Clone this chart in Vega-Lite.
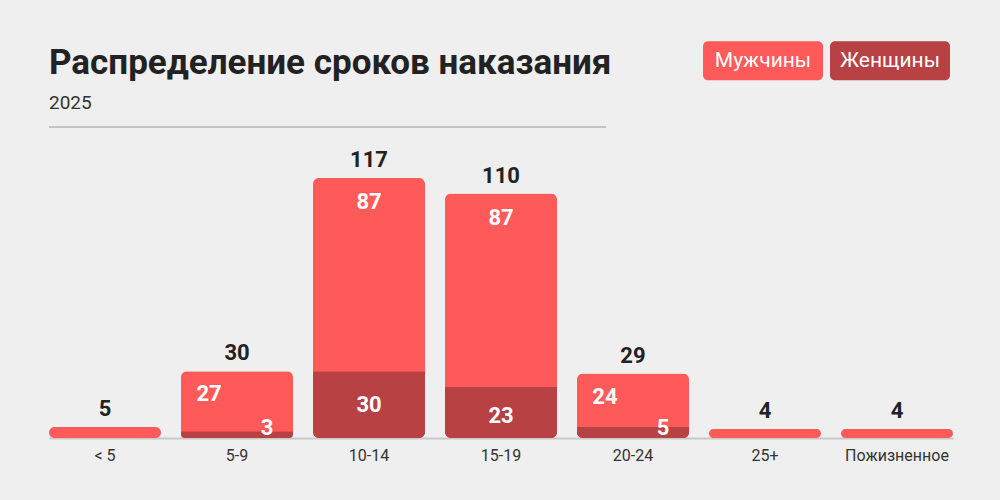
{
  "$schema": "https://vega.github.io/schema/vega-lite/v6.json",
  "autosize": {"type": "none"},
  "padding": {"left": 49, "top": 178, "right": 47, "bottom": 62},
  "width": 904,
  "height": 260,
  "background": "#efefef",
  "title": {
    "text": "Распределение сроков наказания",
    "subtitle": "2025",
    "anchor": "start",
    "frame": "group",
    "offset": -112,
    "font": "Roboto",
    "fontSize": 35,
    "fontWeight": "bold",
    "color": "#222222",
    "subtitleFont": "Roboto",
    "subtitleFontSize": 19,
    "subtitleColor": "#333333",
    "subtitlePadding": 13
  },
  "config": {
    "view": {"stroke": null},
    "text": {"font": "Roboto"},
    "axis": {"labelFont": "Roboto"},
    "legend": {"labelFont": "Roboto"}
  },
  "data": {
    "values": [
      {"cat": "< 5", "men": 5, "women": 0, "total": 5},
      {"cat": "5-9", "men": 27, "women": 3, "total": 30},
      {"cat": "10-14", "men": 87, "women": 30, "total": 117},
      {"cat": "15-19", "men": 87, "women": 23, "total": 110},
      {"cat": "20-24", "men": 24, "women": 5, "total": 29},
      {"cat": "25+", "men": 4, "women": 0, "total": 4},
      {"cat": "Пожизненное", "men": 4, "women": 0, "total": 4}
    ]
  },
  "resolve": {"scale": {"x": "independent"}},
  "layer": [
    {
      "encoding": {
        "x": {
          "field": "cat",
          "type": "nominal",
          "sort": null,
          "scale": {"paddingInner": 0.1515, "paddingOuter": 0},
          "axis": {
            "title": null,
            "labelAngle": 0,
            "ticks": false,
            "domainColor": "#c8c8c8",
            "domainWidth": 2,
            "labelFontSize": 16,
            "labelColor": "#333333",
            "labelPadding": 9
          }
        },
        "y": {
          "type": "quantitative",
          "scale": {"domain": [0, 117], "nice": false},
          "axis": null
        }
      },
      "layer": [
        {
          "mark": {"type": "bar", "cornerRadius": 6},
          "encoding": {
            "y": {"field": "total"},
            "color": {
              "datum": "Мужчины",
              "type": "nominal",
              "scale": {"domain": ["Мужчины", "Женщины"], "range": ["#ff5a5a", "#b74143"]},
              "legend": {
                "title": null,
                "orient": "none",
                "direction": "horizontal",
                "legendX": 654,
                "legendY": -177.5,
                "padding": 0,
                "columnPadding": 7,
                "symbolType": "M-0.917,-0.325H0.917A0.083,0.083,0,0,1,1,-0.242V0.242A0.083,0.083,0,0,1,0.917,0.325H-0.917A0.083,0.083,0,0,1,-1,0.242V-0.242A0.083,0.083,0,0,1,-0.917,-0.325Z",
                "symbolSize": 14400,
                "symbolStrokeWidth": 0,
                "symbolOpacity": 1,
                "labelAlign": "center",
                "labelOffset": -60,
                "labelFontSize": 21,
                "labelColor": "#ffffff",
                "labelLimit": 200
              }
            }
          }
        },
        {
          "transform": [{"filter": "datum.women > 0"}],
          "mark": {"type": "bar", "cornerRadiusBottomLeft": 6, "cornerRadiusBottomRight": 6},
          "encoding": {
            "y": {"field": "women"},
            "color": {"datum": "Женщины", "type": "nominal"}
          }
        },
        {
          "mark": {"type": "text", "baseline": "alphabetic", "dy": -11, "fontSize": 22, "fontWeight": "bold", "color": "#222222"},
          "encoding": {
            "y": {"field": "total"},
            "text": {"field": "total"}
          }
        },
        {
          "transform": [{"filter": "datum.total > 100"}],
          "mark": {"type": "text", "baseline": "alphabetic", "dy": 31, "fontSize": 22, "fontWeight": "bold", "color": "#ffffff"},
          "encoding": {
            "y": {"field": "total"},
            "text": {"field": "men"}
          }
        },
        {
          "transform": [{"filter": "datum.women > 0 && datum.total < 100"}],
          "mark": {"type": "text", "baseline": "alphabetic", "dy": 30, "dx": -28, "fontSize": 22, "fontWeight": "bold", "color": "#ffffff"},
          "encoding": {
            "y": {"field": "total"},
            "text": {"field": "men"}
          }
        },
        {
          "transform": [{"filter": "datum.cat == '10-14'"}],
          "mark": {"type": "text", "baseline": "alphabetic", "dy": 41, "fontSize": 22, "fontWeight": "bold", "color": "#ffffff"},
          "encoding": {
            "y": {"field": "women"},
            "text": {"field": "women"}
          }
        },
        {
          "transform": [{"filter": "datum.cat == '15-19'"}],
          "mark": {"type": "text", "baseline": "alphabetic", "dy": 36, "fontSize": 22, "fontWeight": "bold", "color": "#ffffff"},
          "encoding": {
            "y": {"field": "women"},
            "text": {"field": "women"}
          }
        },
        {
          "transform": [{"filter": "datum.women > 0 && datum.total < 100"}],
          "mark": {"type": "text", "baseline": "alphabetic", "dy": -3, "dx": 30, "fontSize": 22, "fontWeight": "bold", "color": "#ffffff"},
          "encoding": {
            "y": {"datum": 0},
            "text": {"field": "women"}
          }
        }
      ]
    },
    {
      "mark": {"type": "rule", "color": "#c4c4c4", "strokeWidth": 2},
      "encoding": {
        "x": {"datum": 0, "type": "quantitative", "scale": {"domain": [0, 1], "nice": false}, "axis": null},
        "x2": {"datum": 0.616},
        "y": {"datum": 140, "type": "quantitative", "scale": {"domain": [0, 117], "nice": false}, "axis": null}
      }
    }
  ]
}
